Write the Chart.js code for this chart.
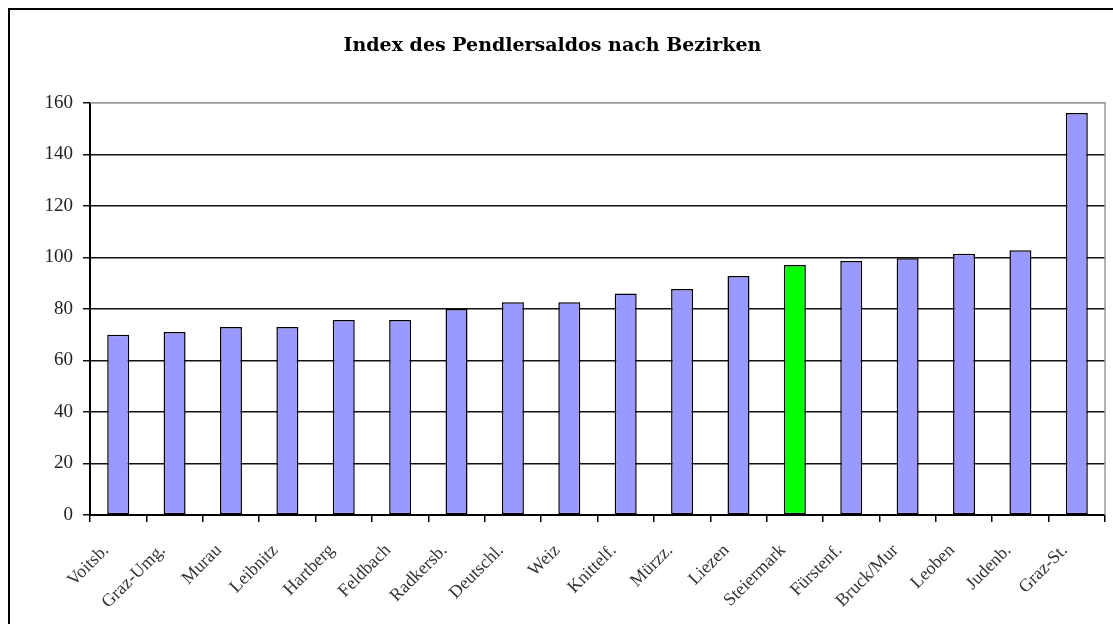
<!DOCTYPE html>
<html>
<head>
<meta charset="utf-8">
<script src="https://cdn.jsdelivr.net/npm/chart.js@4/dist/chart.umd.min.js"></script>
<style>
  html, body { margin: 0; padding: 0; background: #fff; }
  #wrap { width: 1113px; height: 624px; position: relative; }
</style>
</head>
<body>
<div id="wrap"><canvas id="c" width="1113" height="624"></canvas></div>
<script>
const categories = ["Voitsb.", "Graz-Umg.", "Murau", "Leibnitz", "Hartberg", "Feldbach", "Radkersb.", "Deutschl.", "Weiz", "Knittelf.", "Mürzz.", "Liezen", "Steiermark", "Fürstenf.", "Bruck/Mur", "Leoben", "Judenb.", "Graz-St."];
const values = [70, 71, 73, 73, 75.7, 75.7, 80, 82.6, 82.6, 86, 87.7, 92.8, 97, 98.6, 99.7, 101.4, 102.8, 156];
const highlight = "Steiermark";
const yTicks = [0, 20, 40, 60, 80, 100, 120, 140, 160];
const titleText = "Index des Pendlersaldos nach Bezirken";

const framePlugin = {
  id: 'frame',
  beforeDraw(chart) {
    const ctx = chart.ctx;
    ctx.save();
    ctx.fillStyle = '#fff';
    ctx.fillRect(0, 0, chart.width, chart.height);
    ctx.strokeStyle = '#000';
    ctx.lineWidth = 2;
    ctx.beginPath();
    ctx.moveTo(9, chart.height + 5);
    ctx.lineTo(9, 9);
    ctx.lineTo(chart.width + 5, 9);
    ctx.stroke();
    ctx.restore();
  },
  afterDatasetsDraw(chart) {
    const a = chart.chartArea;
    const ctx = chart.ctx;
    ctx.save();
    ctx.strokeStyle = '#9a9a9a';
    ctx.lineWidth = 1.5;
    ctx.beginPath();
    ctx.moveTo(a.left, a.top);
    ctx.lineTo(a.right, a.top);
    ctx.lineTo(a.right, a.bottom);
    ctx.stroke();
    ctx.restore();
  }
};

new Chart(document.getElementById('c'), {
  type: 'bar',
  data: {
    labels: categories,
    datasets: [{
      data: values,
      backgroundColor: categories.map(c => c === highlight ? '#00ff00' : '#9999ff'),
      borderColor: '#000',
      borderWidth: 1.5,
      borderSkipped: false,
      barPercentage: 0.39,
      categoryPercentage: 1.0
    }]
  },
  options: {
    responsive: false,
    animation: false,
    devicePixelRatio: 1,
    layout: { padding: { left: 0, right: 8, top: 0, bottom: 0 } },
    plugins: {
      legend: { display: false },
      tooltip: { enabled: false },
      title: {
        display: true,
        text: titleText,
        color: '#000',
        font: { family: 'DejaVu Serif', size: 19, weight: 'bold' },
        padding: { top: 35, bottom: 45 }
      }
    },
    scales: {
      x: {
        offset: true,
        grid: {
          display: true,
          offset: true,
          drawOnChartArea: false,
          drawTicks: true,
          tickLength: 7,
          color: '#000',
          lineWidth: 1.5
        },
        border: { display: true, color: '#000', width: 2 },
        ticks: {
          color: '#333',
          font: { family: 'Liberation Serif', size: 18 },
          maxRotation: 45,
          minRotation: 45,
          autoSkip: false,
          padding: 18,
          labelOffset: -12
        },
        afterFit(scale) { scale.height = 109; }
      },
      y: {
        min: 0,
        max: 160,
        afterBuildTicks(scale) { scale.ticks = yTicks.map(v => ({ value: v })); },
        grid: {
          color: ctx => (ctx.tick && ctx.tick.value === 160) ? '#9a9a9a' : '#111',
          tickColor: '#111',
          lineWidth: 1.5,
          tickLength: 7
        },
        border: { display: true, color: '#000', width: 2 },
        ticks: {
          color: '#222',
          font: { family: 'Liberation Serif', size: 19 },
          padding: 10
        },
        afterFit(scale) { scale.width = 90; }
      }
    }
  },
  plugins: [framePlugin]
});
</script>
</body>
</html>
